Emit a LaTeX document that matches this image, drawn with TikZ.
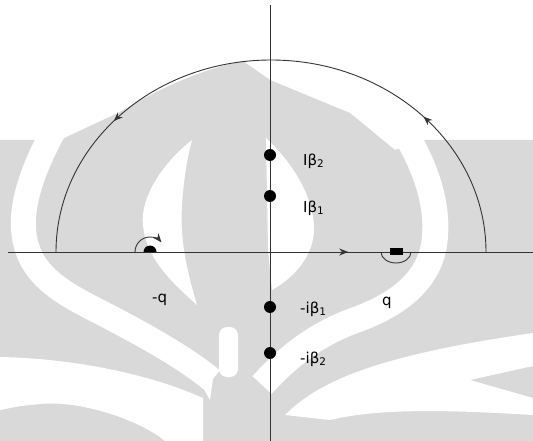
\documentclass[tikz,border=0pt]{standalone}
\usepackage{fontspec}
\setmainfont{DejaVu Sans}
\usetikzlibrary{arrows.meta, decorations.markings}

\tikzset{
  axisline/.style={draw=black!80, line width=0.9pt},
  contour/.style={draw=black!80, line width=0.9pt},
  pole/.style={circle, fill=black, inner sep=0pt, minimum size=12pt},
  lbl/.style={anchor=base west, inner sep=0pt, font=\fontsize{15}{18}\selectfont},
  wmark/.style={fill=black!15, draw=none},
  wband/.style={draw=white, line width=#1, line cap=butt},
  tip/.style={-{Stealth[length=9pt, width=7pt]}},
}

\begin{document}
\begin{tikzpicture}[x=1pt, y=-1pt]
    \useasboundingbox (0,0) rectangle (533,441);
    % Watermark
    \fill[wmark] (0,140) -- (60,140) -- (120,112)
        .. controls (160,88) and (200,70) .. (243,61) -- (270,80) -- (350,113)
        -- (395,150) -- (420,140) -- (533,140) -- (533,441) -- (0,441) -- cycle;
    \draw[wband=25pt] (55,128) .. controls (35,165) and (18,205) .. (25,240)
        .. controls (32,275) and (60,292) .. (100,312)
        .. controls (150,338) and (185,358) .. (212,380);
    \fill[white] (190,365) -- (214,372) -- (210,400) -- cycle;
    \draw[wband=26pt] (402,128) .. controls (425,165) and (440,205) .. (434,245)
        .. controls (428,280) and (400,305) .. (350,322)
        .. controls (310,338) and (285,360) .. (262,385);
    \fill[white] (192,140) .. controls (160,165) and (140,200) .. (143,225)
        .. controls (146,260) and (175,285) .. (197,305)
        .. controls (185,265) and (180,235) .. (182,205)
        .. controls (184,175) and (188,155) .. cycle;
    \fill[white] (266,138) .. controls (295,165) and (315,200) .. (314,232)
        .. controls (312,260) and (290,280) .. (272,290) -- (268,250) -- cycle;
    \fill[white, rounded corners=8pt] (219,327) rectangle (238,377);
    \fill[white] (0,357) .. controls (60,358) and (140,370) .. (203,398)
        -- (203,441) -- (165,441) .. controls (140,420) and (80,400) .. (40,404)
        .. controls (20,406) .. (0,410) -- cycle;
    \fill[white] (285,415) .. controls (320,380) and (380,355) .. (533,333)
        -- (533,366) -- (470,380) -- (533,398) -- (533,415)
        .. controls (450,410) and (380,408) .. (330,420) -- cycle;

    % Coordinates
    \coordinate (xl) at (8,252);
    \coordinate (xr) at (533,252);
    \coordinate (yt) at (270,5);
    \coordinate (yb) at (270,441);
    \coordinate (arcR) at (486,252);
    \coordinate (mq) at (150,252);
    \coordinate (pq) at (396,252);

    % Axes
    \draw[axisline, postaction=decorate, decoration={markings,
        mark=at position 0.648 with {\arrow{Stealth[length=9pt, width=7pt]}}}] (xl) -- (xr);
    \draw[axisline] (yt) -- (yb);

    % Contour
    \draw[contour, postaction=decorate, decoration={markings,
        mark=at position 0.24 with {\arrow{Stealth[length=9pt, width=7pt]}},
        mark=at position 0.77 with {\arrow{Stealth[length=9pt, width=7pt]}}}]
        (arcR) arc[start angle=0, end angle=-180, x radius=215, y radius=192];

    % Indentations at -q and q
    \fill ([xshift=-6.5pt]mq) arc[start angle=180, end angle=360, radius=6.5] -- cycle;
    \draw[contour, tip] ([xshift=-15pt]mq) arc[start angle=180, end angle=320, radius=15];
    \fill ([shift={(-6.5,-4)}]pq) rectangle ([shift={(6.5,3)}]pq);
    \draw[contour] ([xshift=-15pt]pq) arc[start angle=180, end angle=0, x radius=15, y radius=11];

    % Poles
    \node[pole] (b2) at (270,155) {};
    \node[pole] (b1) at (270,196) {};
    \node[pole] (nb1) at (270,307) {};
    \node[pole] (nb2) at (270,353) {};

    % Labels
    \node[lbl] (lb2) at (303,165) {Iβ\textsubscript{2}};
    \node[lbl] (lb1) at (303,212) {Iβ\textsubscript{1}};
    \node[lbl] (lnb1) at (300,313) {-iβ\textsubscript{1}};
    \node[lbl] (lnb2) at (300,363) {-iβ\textsubscript{2}};
    \node[lbl] (lmq) at (152,302) {-q};
    \node[lbl] (lpq) at (382,305) {q};
\end{tikzpicture}
\end{document}
